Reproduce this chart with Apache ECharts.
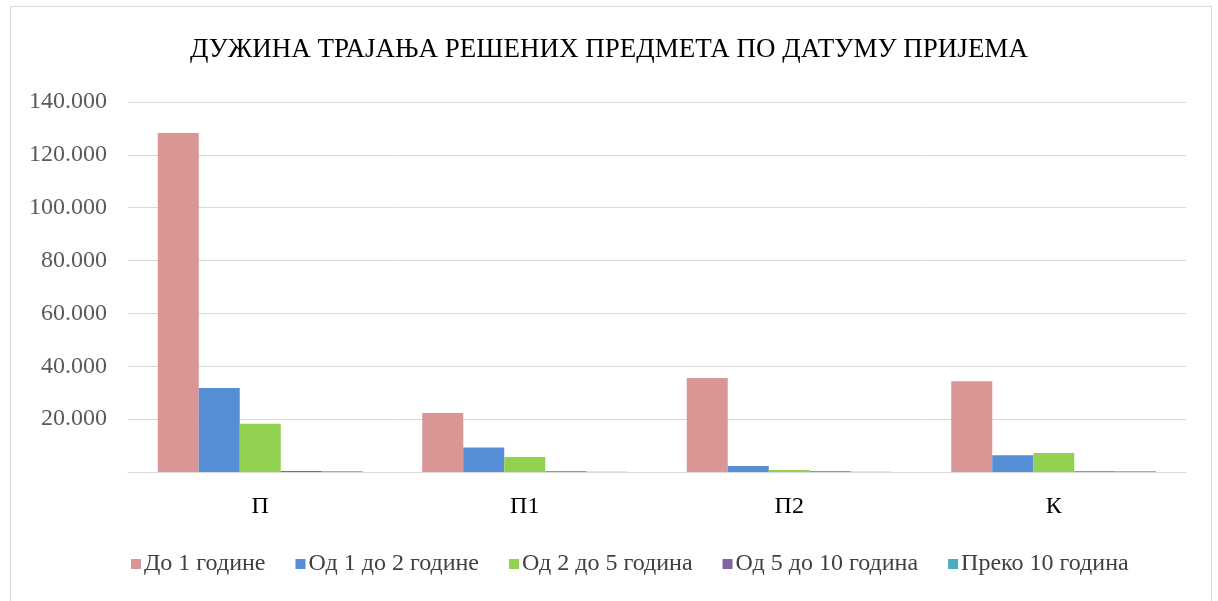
<!DOCTYPE html>
<html>
<head>
<meta charset="utf-8">
<script src="https://cdn.jsdelivr.net/npm/echarts@6/dist/echarts.min.js"></script>
<style>
  html, body { margin: 0; padding: 0; background: #fff; }
  .box {
    position: absolute; left: 10px; top: 6px; width: 1202px; height: 600px;
    border: 1px solid #d9d9d9; box-sizing: border-box;
  }
  #main { position: absolute; left: 0; top: 0; width: 1218px; height: 601px; }
</style>
</head>
<body>
<div class="box"></div>
<div id="main"></div>
<script>
  // категорије и серије
  var categories = ['П', 'П1', 'П2', 'К']
  var seriesNames = ['До 1 године', 'Од 1 до 2 године', 'Од 2 до 5 година', 'Од 5 до 10 година', 'Преко 10 година']
  var do1 = [128300, 22300, 35600, 34300]
  var od1do2 = [31800, 9300, 2300, 6300]
  var od2do5 = [18300, 5700, 750, 7200]
  var od5do10 = [400, 250, 300, 300]
  var preko10 = [300, 50, 50, 300]
  var colors = ['#d99694', '#558ed5', '#92d050', '#8064a2', '#4bacc6']

  var chartDom = document.getElementById('main')
  var myChart = echarts.init(chartDom)
  var font = '"Liberation Serif", "Times New Roman", serif'
  var data = [do1, od1do2, od2do5, od5do10, preko10]
  var series = []
  for (let i = 0; i < seriesNames.length; i++) {
    series.push({
      name: seriesNames[i],
      type: 'bar',
      data: data[i],
      barWidth: 41,
      barGap: '0%',
      itemStyle: { color: colors[i] }
    })
  }
  var option = {
    animation: false,
    color: colors,
    title: {
      text: 'ДУЖИНА ТРАЈАЊА РЕШЕНИХ ПРЕДМЕТА ПО ДАТУМУ ПРИЈЕМА',
      left: 'center',
      top: 31,
      textStyle: { fontFamily: font, fontSize: 27, fontWeight: 'normal', color: '#000' }
    },
    legend: {
      data: seriesNames,
      bottom: 20,
      left: 126,
      icon: 'rect',
      itemWidth: 10,
      itemHeight: 10,
      itemGap: 30,
      textStyle: { fontFamily: font, fontSize: 24, color: '#404040', padding: [0, 0, 0, -2] }
    },
    grid: { left: 128, right: 32, top: 102, bottom: 129 },
    xAxis: {
      type: 'category',
      data: categories,
      axisTick: { show: false },
      axisLine: { lineStyle: { color: '#d9d9d9', width: 1 } },
      axisLabel: { fontFamily: font, fontSize: 24, color: '#000', margin: 23 }
    },
    yAxis: {
      type: 'value',
      min: 0,
      max: 140000,
      interval: 20000,
      axisLine: { show: false },
      axisTick: { show: false },
      splitLine: { lineStyle: { color: '#d9d9d9', width: 1 } },
      axisLabel: {
        fontFamily: font, fontSize: 24, color: '#595959', margin: 21,
        formatter: function (v) {
          if (v === 0) return ''
          return (v / 1000) + '.000'
        }
      }
    },
    series: series
  }
  option && myChart.setOption(option)
</script>
</body>
</html>
